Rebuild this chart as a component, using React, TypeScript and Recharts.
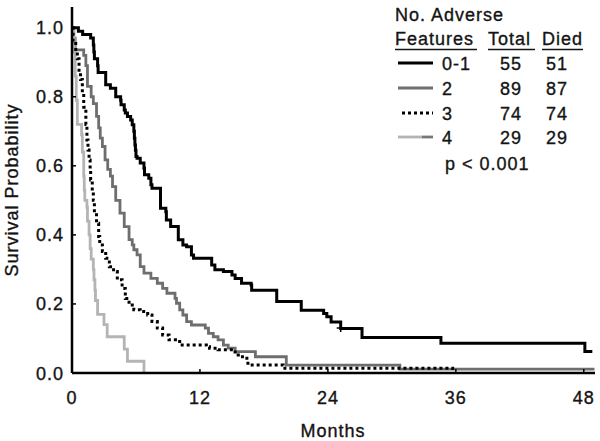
import React from 'react';
import { ComposedChart, Line, Scatter, XAxis, YAxis, Legend } from 'recharts';

// ---- data ----
const groupLabels = ['0-1', '2', '3', '4'];
const totals = [55, 89, 74, 29];
const died = [51, 87, 74, 29];
const pText = 'p < 0.001';
const monthTicks = [0, 12, 24, 36, 48];
const probTicks = [0, 0.2, 0.4, 0.6, 0.8, 1.0];

// [months, survival probability]
const curve01: [number, number][] = [
  [0, 1.0], [0.6, 0.99], [1.0, 0.98], [1.75, 0.97], [2.0, 0.95], [2.05, 0.93], [2.1, 0.91],
  [2.4, 0.89], [2.45, 0.87], [3.16, 0.835], [3.6, 0.825], [4.1, 0.8], [4.56, 0.79], [4.6, 0.777],
  [4.9, 0.762], [5.0, 0.753], [5.2, 0.743], [5.5, 0.733], [5.65, 0.719], [5.8, 0.7], [5.85, 0.68],
  [5.9, 0.66], [5.95, 0.645], [6.0, 0.627], [6.1, 0.622], [6.4, 0.608], [6.75, 0.593], [6.8, 0.574],
  [7.2, 0.564], [7.4, 0.545], [7.5, 0.535], [8.3, 0.477], [8.8, 0.467], [8.85, 0.443], [9.25, 0.424],
  [9.97, 0.386], [10.4, 0.371], [10.75, 0.366], [11.2, 0.342], [11.4, 0.332], [13.1, 0.313],
  [13.4, 0.299], [14.2, 0.294], [15.0, 0.284], [15.3, 0.274], [15.9, 0.26], [16.8, 0.255],
  [16.85, 0.24], [19.2, 0.207], [21.5, 0.182], [23.6, 0.172], [23.9, 0.163], [24.3, 0.148],
  [25.2, 0.129], [27.2, 0.103], [34.6, 0.086], [48.1, 0.062], [48.8, 0.062],
];
const curve2: [number, number][] = [
  [0, 1.0], [0.15, 0.97], [0.3, 0.936], [1.1, 0.92], [1.3, 0.89], [1.45, 0.83], [1.8, 0.8],
  [2.0, 0.78], [2.3, 0.743], [2.5, 0.71], [2.65, 0.68], [2.85, 0.656], [3.1, 0.617], [3.35, 0.59],
  [3.6, 0.57], [3.8, 0.54], [4.1, 0.5], [4.5, 0.463], [4.9, 0.424], [5.35, 0.386], [5.65, 0.371],
  [5.8, 0.357], [6.1, 0.342], [6.4, 0.308], [6.75, 0.289], [7.4, 0.274], [8.0, 0.26], [8.5, 0.245],
  [8.9, 0.231], [9.66, 0.216], [9.8, 0.202], [10.1, 0.183], [10.4, 0.168], [10.75, 0.149],
  [11.2, 0.139], [12.5, 0.13], [12.8, 0.115], [13.25, 0.105], [13.7, 0.096], [14.2, 0.081],
  [14.65, 0.072], [15.3, 0.062], [17.2, 0.047], [20.1, 0.023], [30.75, 0.011], [49.0, 0.011],
];
const curve3: [number, number][] = [
  [0, 1.0], [0.1, 0.96], [0.35, 0.93], [0.5, 0.91], [0.66, 0.87], [0.8, 0.85], [0.97, 0.81],
  [1.1, 0.77], [1.3, 0.72], [1.4, 0.675], [1.5, 0.646], [1.6, 0.617], [1.7, 0.588], [1.75, 0.559],
  [1.9, 0.525], [2.0, 0.5], [2.1, 0.463], [2.3, 0.434], [2.5, 0.395], [2.6, 0.371], [2.85, 0.352],
  [3.16, 0.332], [3.5, 0.308], [3.9, 0.294], [4.25, 0.27], [4.7, 0.245], [5.0, 0.216], [5.35, 0.197],
  [5.8, 0.183], [6.4, 0.178], [7.1, 0.168], [7.5, 0.149], [8.0, 0.13], [8.5, 0.11], [9.1, 0.096],
  [9.7, 0.091], [10.1, 0.081], [12.6, 0.076], [12.9, 0.072], [13.7, 0.067], [15.3, 0.052],
  [15.6, 0.047], [16.4, 0.038], [16.5, 0.023], [19.8, 0.0136], [35.7, 0],
];
const curve4: [number, number][] = [
  [0, 1.0], [0.2, 0.93], [0.3, 0.86], [0.4, 0.79], [0.5, 0.72], [0.9, 0.69], [0.97, 0.64],
  [1.1, 0.57], [1.15, 0.53], [1.2, 0.5], [1.4, 0.48], [1.45, 0.44], [1.6, 0.4], [1.7, 0.36],
  [1.8, 0.33], [2.0, 0.3], [2.06, 0.27], [2.15, 0.24], [2.2, 0.21], [2.4, 0.17], [3.0, 0.14],
  [3.3, 0.105], [4.9, 0.069], [5.2, 0.034], [6.75, 0],
];
const censored01: [number, number][] = [[25.2, 0.13]];

const toRows = (c: [number, number][]) => c.map(([t, s]) => ({ t, s }));

// ---- styles ----
const FONT = '"Liberation Sans", Arial, Helvetica, sans-serif';
const TXT = '#141414';
const LS = 1;
const PLOT_LEFT = 72;
const PLOT_BOTTOM = 373;
const textStyle = {
  fontSize: 18,
  fontFamily: FONT,
  fill: TXT,
  stroke: TXT,
  strokeWidth: 0.35,
  letterSpacing: LS,
} as const;

const seriesStyle = [
  { color: '#000000', width: 3, dash: undefined as string | undefined },
  { color: '#6e6e6e', width: 2.8, dash: undefined as string | undefined },
  { color: '#000000', width: 3, dash: '3 3' },
  { color: '#b4b4b4', width: 2.8, dash: undefined as string | undefined },
];

const XTick = (props: any) => {
  const { x, payload } = props;
  return (
    <g>
      <line x1={x} x2={x} y1={PLOT_BOTTOM} y2={PLOT_BOTTOM - 4} stroke="#000" strokeWidth={1.5} />
      <text x={x} y={404} textAnchor="middle" {...textStyle}>
        {payload.value}
      </text>
    </g>
  );
};

const YTick = (props: any) => {
  const { y, payload } = props;
  return (
    <g>
      <line x1={PLOT_LEFT} x2={PLOT_LEFT + 4} y1={y} y2={y} stroke="#000" strokeWidth={1.5} />
      <text x={64} y={y + 6.5} textAnchor="end" {...textStyle}>
        {Number(payload.value).toFixed(1)}
      </text>
    </g>
  );
};

const Plus = (p: any) => (
  <path d={`M${p.cx - 4},${p.cy}h8M${p.cx},${p.cy - 4}v8`} stroke="#000" strokeWidth={1.5} fill="none" />
);

const LegendBox = () => {
  const rowY = [63, 88, 113, 137];
  const t = textStyle;
  return (
    <svg width={600} height={190} style={{ display: 'block' }}>
      <text x={395} y={21} {...t}>No. Adverse</text>
      <text x={395} y={45} {...t}>Features</text>
      <text x={488} y={45} {...t}>Total</text>
      <text x={542} y={45} {...t}>Died</text>
      <line x1={395} x2={477} y1={49.5} y2={49.5} stroke={TXT} strokeWidth={1.5} />
      <line x1={488} x2={535} y1={49.5} y2={49.5} stroke={TXT} strokeWidth={1.5} />
      <line x1={542} x2={583} y1={49.5} y2={49.5} stroke={TXT} strokeWidth={1.5} />
      {groupLabels.map((g, i) => {
        const y = rowY[i];
        const st = seriesStyle[i];
        return (
          <g key={g}>
            {i === 3 ? (
              <g>
                <line x1={398} x2={422} y1={y} y2={y} stroke={st.color} strokeWidth={st.width} />
                <line x1={422} x2={433} y1={y} y2={y} stroke="#777" strokeWidth={st.width} />
              </g>
            ) : (
              <line x1={i === 2 ? 402 : 398} x2={433} y1={y} y2={y} stroke={st.color}
                strokeWidth={st.width} strokeDasharray={st.dash} />
            )}
            <text x={442} y={y + 6.5} {...t}>{g}</text>
            <text x={511} y={y + 6.5} textAnchor="middle" {...t}>{totals[i]}</text>
            <text x={557} y={y + 6.5} textAnchor="middle" {...t}>{died[i]}</text>
          </g>
        );
      })}
      <text x={445} y={170} {...t}>{pText}</text>
    </svg>
  );
};

const curves = [curve01, curve2, curve3, curve4];
const drawOrder = [1, 3, 2, 0];

export default function App() {
  return (
    <div style={{ position: 'absolute', left: 0, top: 0, width: 600, height: 441, background: '#fff' }}>
      <ComposedChart width={600} height={441} margin={{ top: 7, right: 5, bottom: 0, left: 0 }}>
        <XAxis
          type="number"
          dataKey="t"
          domain={[0, 49.05]}
          ticks={monthTicks}
          allowDataOverflow
          height={68}
          axisLine={{ stroke: '#000', strokeWidth: 2.5 }}
          tickLine={false}
          tick={<XTick />}
          label={{
            content: () => (
              <text x={333} y={437} textAnchor="middle" {...textStyle}>
                Months
              </text>
            ),
          }}
        />
        <YAxis
          type="number"
          dataKey="s"
          domain={[0, 1.06]}
          ticks={probTicks}
          allowDataOverflow
          width={72}
          axisLine={{ stroke: '#000', strokeWidth: 2.5 }}
          tickLine={false}
          tick={<YTick />}
          label={{
            content: () => (
              <text x={18} y={190} textAnchor="middle" {...textStyle} transform="rotate(-90, 18, 190)">
                Survival Probability
              </text>
            ),
          }}
        />
        <Legend
          layout="vertical"
          align="center"
          verticalAlign="middle"
          wrapperStyle={{ position: 'absolute', left: 0, top: 0, width: 600, height: 190, pointerEvents: 'none' }}
          content={() => <LegendBox />}
        />
        {drawOrder.map((i) => (
          <Line
            key={groupLabels[i]}
            name={groupLabels[i]}
            data={toRows(curves[i])}
            dataKey="s"
            type="stepAfter"
            stroke={seriesStyle[i].color}
            strokeWidth={seriesStyle[i].width}
            strokeDasharray={seriesStyle[i].dash}
            strokeLinecap="butt"
            dot={false}
            activeDot={false}
            isAnimationActive={false}
          />
        ))}
        <Scatter data={toRows(censored01)} dataKey="s" shape={<Plus />} isAnimationActive={false} legendType="none" />
      </ComposedChart>
    </div>
  );
}
